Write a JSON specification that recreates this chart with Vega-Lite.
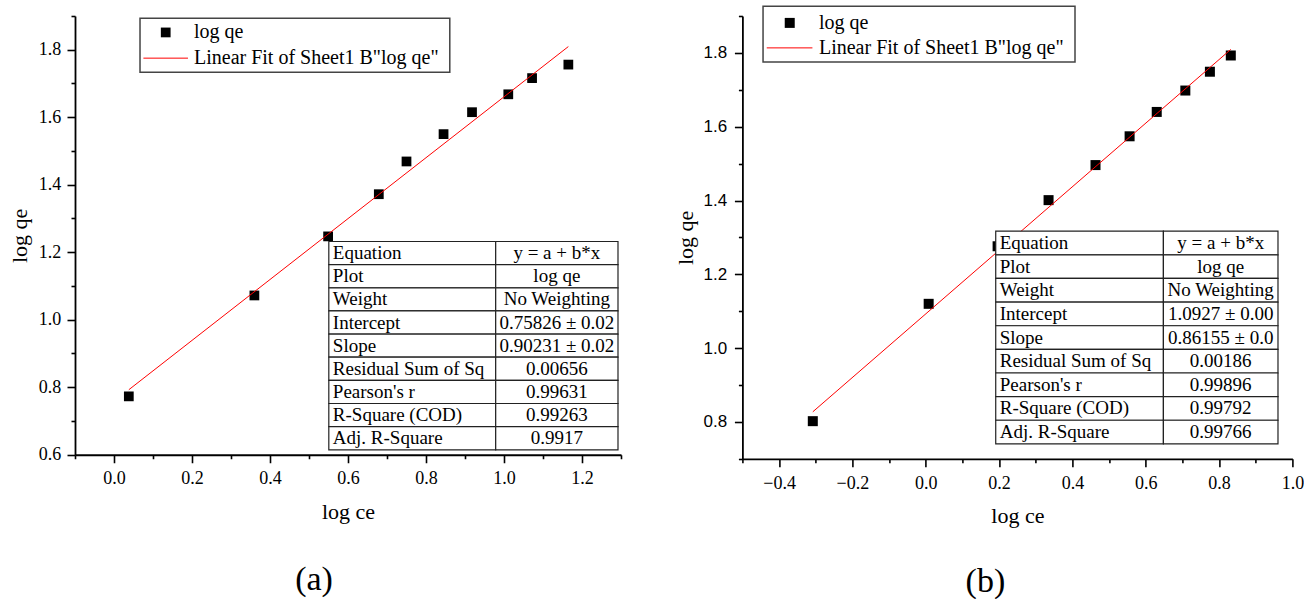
{
  "$schema": "https://vega.github.io/schema/vega-lite/v6.json",
  "padding": {"left": 8, "top": 5, "right": 0, "bottom": 0},
  "background": "white",
  "config": {"view": {"stroke": null}, "font": "Liberation Serif"},
  "spacing": 121.4,
  "bounds": "flush",
  "hconcat": [
    {
      "width": 546,
      "height": 438.75,
      "title": {"text": "(a)", "orient": "bottom", "anchor": "middle", "frame": "group", "font": "Liberation Serif", "fontSize": 34, "fontWeight": "normal", "color": "black", "offset": 40, "dx": -34},
      "layer": [
        {
          "layer": [
            {
              "data": {"values": [
                {"x": 0.038, "y": 0.773}, {"x": 0.360, "y": 1.072}, {"x": 0.549, "y": 1.247},
                {"x": 0.679, "y": 1.372}, {"x": 0.750, "y": 1.469}, {"x": 0.845, "y": 1.550},
                {"x": 0.918, "y": 1.615}, {"x": 1.011, "y": 1.668}, {"x": 1.072, "y": 1.716},
                {"x": 1.165, "y": 1.756}
              ]},
              "mark": {"type": "point", "shape": "square", "filled": true, "size": 95, "color": "black", "opacity": 1},
              "encoding": {
                "x": {"field": "x", "type": "quantitative",
                  "scale": {"domain": [-0.1, 1.3], "nice": false, "zero": false},
                  "axis": {"title": "log ce", "values": [-0.1, 0, 0.1, 0.2, 0.3, 0.4, 0.5, 0.6, 0.7, 0.8, 0.9, 1.0, 1.1, 1.2, 1.3],
                    "tickCount": 100,
                    "labelExpr": "round(datum.value*10) % 2 === 0 ? format(datum.value, '.1f') : ''",
                    "tickSize": 8,
                    "tickDash": {"condition": {"test": "round(datum.value*10) % 2 !== 0", "value": [4, 20]}, "value": [20, 0]},
                    "labelFont": "Liberation Serif", "labelFontSize": 18, "labelColor": "black", "labelBaseline": "alphabetic", "labelPadding": 20.7,
                    "labelOverlap": false, "labelFlush": false, "grid": false,
                    "domainColor": "black", "domainWidth": 1.8, "tickColor": "black", "tickWidth": 1.6,
                    "titleFont": "Liberation Serif", "titleFontSize": 22, "titleFontWeight": "normal", "titleColor": "black", "titleY": 64, "titleBaseline": "alphabetic"}},
                "y": {"field": "y", "type": "quantitative",
                  "scale": {"domain": [0.6, 1.9], "nice": false, "zero": false},
                  "axis": {"title": "log qe", "values": [0.6, 0.7, 0.8, 0.9, 1.0, 1.1, 1.2, 1.3, 1.4, 1.5, 1.6, 1.7, 1.8, 1.9],
                    "tickCount": 100,
                    "labelExpr": "round(datum.value*10) % 2 === 0 ? format(datum.value, '.1f') : ''",
                    "tickSize": 8,
                    "tickDash": {"condition": {"test": "round(datum.value*10) % 2 !== 0", "value": [4, 20]}, "value": [20, 0]},
                    "labelFont": "Liberation Serif", "labelFontSize": 18, "labelColor": "black", "labelPadding": 6.3,
                    "labelOverlap": false, "labelFlush": false, "grid": false,
                    "domainColor": "black", "domainWidth": 1.8, "tickColor": "black", "tickWidth": 1.6,
                    "titleFont": "Liberation Serif", "titleFontSize": 22, "titleFontWeight": "normal", "titleColor": "black", "titleX": -48.7, "titleBaseline": "alphabetic"}}
              }
            },
            {
              "data": {"values": [{"x": 0.038, "y": 0.7926}, {"x": 1.165, "y": 1.8094}]},
              "mark": {"type": "line", "color": "#ff0000", "strokeWidth": 1},
              "encoding": {"x": {"field": "x", "type": "quantitative"}, "y": {"field": "y", "type": "quantitative"}}
            },
            {
              "data": {"values": [{"series": "legend"}]},
              "mark": {"type": "rect", "fill": "white", "stroke": "#444444", "strokeWidth": 1.5},
              "encoding": {"x": {"datum": 0.0667, "type": "quantitative"}, "x2": {"datum": 0.861}, "y": {"datum": 1.8935, "type": "quantitative"}, "y2": {"datum": 1.7335}}
            },
            {
              "data": {"values": [{"series": "log qe"}]},
              "layer": [
                {"mark": {"type": "point", "shape": "square", "filled": true, "size": 95, "color": "black", "opacity": 1},
                 "encoding": {"x": {"datum": 0.1326, "type": "quantitative"}, "y": {"datum": 1.8513, "type": "quantitative"}}},
                {"mark": {"type": "text", "align": "left", "baseline": "middle", "font": "Liberation Serif", "fontSize": 20, "color": "black"},
                 "encoding": {"text": {"field": "series"}, "x": {"datum": 0.2051, "type": "quantitative"}, "y": {"datum": 1.8513, "type": "quantitative"}}}
              ]
            },
            {
              "data": {"values": [{"series": "Linear Fit of Sheet1 B\"log qe\""}]},
              "layer": [
                {"mark": {"type": "rule", "color": "#ff0000", "strokeWidth": 1},
                 "encoding": {"x": {"datum": 0.0754, "type": "quantitative"}, "x2": {"datum": 0.1897}, "y": {"datum": 1.7751, "type": "quantitative"}}},
                {"mark": {"type": "text", "align": "left", "baseline": "middle", "font": "Liberation Serif", "fontSize": 20, "color": "black"},
                 "encoding": {"text": {"field": "series"}, "x": {"datum": 0.2051, "type": "quantitative"}, "y": {"datum": 1.7751, "type": "quantitative"}}}
              ]
            }
          ]
        },
        {
          "data": {"values": [
            {"p": "Equation", "v": "y = a + b*x"},
            {"p": "Plot", "v": "log qe"},
            {"p": "Weight", "v": "No Weighting"},
            {"p": "Intercept", "v": "0.75826 ± 0.02"},
            {"p": "Slope", "v": "0.90231 ± 0.02"},
            {"p": "Residual Sum of Sq", "v": "0.00656"},
            {"p": "Pearson's r", "v": "0.99631"},
            {"p": "R-Square (COD)", "v": "0.99263"},
            {"p": "Adj. R-Square", "v": "0.9917"}
          ]},
          "encoding": {"y": {"field": "p", "type": "nominal", "sort": null, "axis": null,
            "scale": {"paddingInner": 0, "paddingOuter": 0, "range": [225.5, 433.8]}}},
          "layer": [
            {"mark": {"type": "rect", "fill": "white", "stroke": "#222222", "strokeWidth": 1.2},
             "encoding": {"x": {"datum": 0.5508, "type": "quantitative"}, "x2": {"datum": 0.9787}}},
            {"mark": {"type": "rect", "fill": "white", "stroke": "#222222", "strokeWidth": 1.2},
             "encoding": {"x": {"datum": 0.9787, "type": "quantitative"}, "x2": {"datum": 1.2923}}},
            {"mark": {"type": "text", "align": "left", "baseline": "middle", "dx": 4, "font": "Liberation Serif", "fontSize": 19, "color": "black"},
             "encoding": {"text": {"field": "p"}, "x": {"datum": 0.5508, "type": "quantitative"}}},
            {"mark": {"type": "text", "align": "center", "baseline": "middle", "font": "Liberation Serif", "fontSize": 19, "color": "black"},
             "encoding": {"text": {"field": "v"}, "x": {"datum": 1.1355, "type": "quantitative"}}}
          ]
        }
      ],
      "resolve": {"scale": {"y": "independent"}}
    },
    {
      "width": 550,
      "height": 442.8,
      "title": {"text": "(b)", "orient": "bottom", "anchor": "middle", "frame": "group", "font": "Liberation Serif", "fontSize": 34, "fontWeight": "normal", "color": "black", "offset": 38, "dx": -32},
      "layer": [
        {
          "layer": [
            {
              "data": {"values": [
                {"x": -0.308, "y": 0.802}, {"x": 0.008, "y": 1.120}, {"x": 0.196, "y": 1.276},
                {"x": 0.335, "y": 1.401}, {"x": 0.463, "y": 1.496}, {"x": 0.556, "y": 1.574},
                {"x": 0.630, "y": 1.640}, {"x": 0.708, "y": 1.698}, {"x": 0.775, "y": 1.749},
                {"x": 0.832, "y": 1.793}
              ]},
              "mark": {"type": "point", "shape": "square", "filled": true, "size": 100, "color": "black", "opacity": 1},
              "encoding": {
                "x": {"field": "x", "type": "quantitative",
                  "scale": {"domain": [-0.5, 1.0], "nice": false, "zero": false},
                  "axis": {"title": "log ce", "values": [-0.5, -0.4, -0.3, -0.2, -0.1, 0, 0.1, 0.2, 0.3, 0.4, 0.5, 0.6, 0.7, 0.8, 0.9, 1.0],
                    "tickCount": 100,
                    "labelExpr": "round(datum.value*10) % 2 === 0 ? format(datum.value, '.1f') : ''",
                    "tickSize": 8,
                    "tickDash": {"condition": {"test": "round(datum.value*10) % 2 !== 0", "value": [4, 20]}, "value": [20, 0]},
                    "labelFont": "Liberation Serif", "labelFontSize": 18, "labelColor": "black", "labelBaseline": "alphabetic", "labelPadding": 21.7,
                    "labelOverlap": false, "labelFlush": false, "grid": false,
                    "domainColor": "black", "domainWidth": 1.8, "tickColor": "black", "tickWidth": 1.6,
                    "titleFont": "Liberation Serif", "titleFontSize": 22, "titleFontWeight": "normal", "titleColor": "black", "titleY": 64, "titleBaseline": "alphabetic"}},
                "y": {"field": "y", "type": "quantitative",
                  "scale": {"domain": [0.7, 1.9], "nice": false, "zero": false},
                  "axis": {"title": "log qe", "values": [0.7, 0.8, 0.9, 1.0, 1.1, 1.2, 1.3, 1.4, 1.5, 1.6, 1.7, 1.8, 1.9],
                    "tickCount": 100,
                    "labelExpr": "round(datum.value*10) % 2 === 0 ? format(datum.value, '.1f') : ''",
                    "tickSize": 8,
                    "tickDash": {"condition": {"test": "round(datum.value*10) % 2 !== 0", "value": [4, 20]}, "value": [20, 0]},
                    "labelFont": "Liberation Sans", "labelFontSize": 17, "labelColor": "black", "labelPadding": 7.7,
                    "labelOverlap": false, "labelFlush": false, "grid": false,
                    "domainColor": "black", "domainWidth": 1.8, "tickColor": "black", "tickWidth": 1.6,
                    "titleFont": "Liberation Serif", "titleFontSize": 22, "titleFontWeight": "normal", "titleColor": "black", "titleX": -50.3, "titleBaseline": "alphabetic"}}
              }
            },
            {
              "data": {"values": [{"x": -0.308, "y": 0.8273}, {"x": 0.832, "y": 1.8095}]},
              "mark": {"type": "line", "color": "#ff0000", "strokeWidth": 1},
              "encoding": {"x": {"field": "x", "type": "quantitative"}, "y": {"field": "y", "type": "quantitative"}}
            },
            {
              "data": {"values": [{"series": "legend"}]},
              "mark": {"type": "rect", "fill": "white", "stroke": "#444444", "strokeWidth": 1.5},
              "encoding": {"x": {"datum": -0.4437, "type": "quantitative"}, "x2": {"datum": 0.4071}, "y": {"datum": 1.9266, "type": "quantitative"}, "y2": {"datum": 1.7756}}
            },
            {
              "data": {"values": [{"series": "log qe"}]},
              "layer": [
                {"mark": {"type": "point", "shape": "square", "filled": true, "size": 100, "color": "black", "opacity": 1},
                 "encoding": {"x": {"datum": -0.3709, "type": "quantitative"}, "y": {"datum": 1.8813, "type": "quantitative"}}},
                {"mark": {"type": "text", "align": "left", "baseline": "middle", "font": "Liberation Serif", "fontSize": 20, "color": "black"},
                 "encoding": {"text": {"field": "series"}, "x": {"datum": -0.2912, "type": "quantitative"}, "y": {"datum": 1.8813, "type": "quantitative"}}}
              ]
            },
            {
              "data": {"values": [{"series": "Linear Fit of Sheet1 B\"log qe\""}]},
              "layer": [
                {"mark": {"type": "rule", "color": "#ff0000", "strokeWidth": 1},
                 "encoding": {"x": {"datum": -0.4336, "type": "quantitative"}, "x2": {"datum": -0.309}, "y": {"datum": 1.8136, "type": "quantitative"}}},
                {"mark": {"type": "text", "align": "left", "baseline": "middle", "font": "Liberation Serif", "fontSize": 20, "color": "black"},
                 "encoding": {"text": {"field": "series"}, "x": {"datum": -0.2912, "type": "quantitative"}, "y": {"datum": 1.8136, "type": "quantitative"}}}
              ]
            }
          ]
        },
        {
          "data": {"values": [
            {"p": "Equation", "v": "y = a + b*x"},
            {"p": "Plot", "v": "log qe"},
            {"p": "Weight", "v": "No Weighting"},
            {"p": "Intercept", "v": "1.0927 ± 0.00"},
            {"p": "Slope", "v": "0.86155 ± 0.0"},
            {"p": "Residual Sum of Sq", "v": "0.00186"},
            {"p": "Pearson's r", "v": "0.99896"},
            {"p": "R-Square (COD)", "v": "0.99792"},
            {"p": "Adj. R-Square", "v": "0.99766"}
          ]},
          "encoding": {"y": {"field": "p", "type": "nominal", "sort": null, "axis": null,
            "scale": {"paddingInner": 0, "paddingOuter": 0, "range": [215.2, 427.9]}}},
          "layer": [
            {"mark": {"type": "rect", "fill": "white", "stroke": "#222222", "strokeWidth": 1.2},
             "encoding": {"x": {"datum": 0.1909, "type": "quantitative"}, "x2": {"datum": 0.6482}}},
            {"mark": {"type": "rect", "fill": "white", "stroke": "#222222", "strokeWidth": 1.2},
             "encoding": {"x": {"datum": 0.6482, "type": "quantitative"}, "x2": {"datum": 0.9607}}},
            {"mark": {"type": "text", "align": "left", "baseline": "middle", "dx": 4, "font": "Liberation Serif", "fontSize": 19, "color": "black"},
             "encoding": {"text": {"field": "p"}, "x": {"datum": 0.1909, "type": "quantitative"}}},
            {"mark": {"type": "text", "align": "center", "baseline": "middle", "font": "Liberation Serif", "fontSize": 19, "color": "black"},
             "encoding": {"text": {"field": "v"}, "x": {"datum": 0.8045, "type": "quantitative"}}}
          ]
        }
      ],
      "resolve": {"scale": {"y": "independent"}}
    }
  ]
}
